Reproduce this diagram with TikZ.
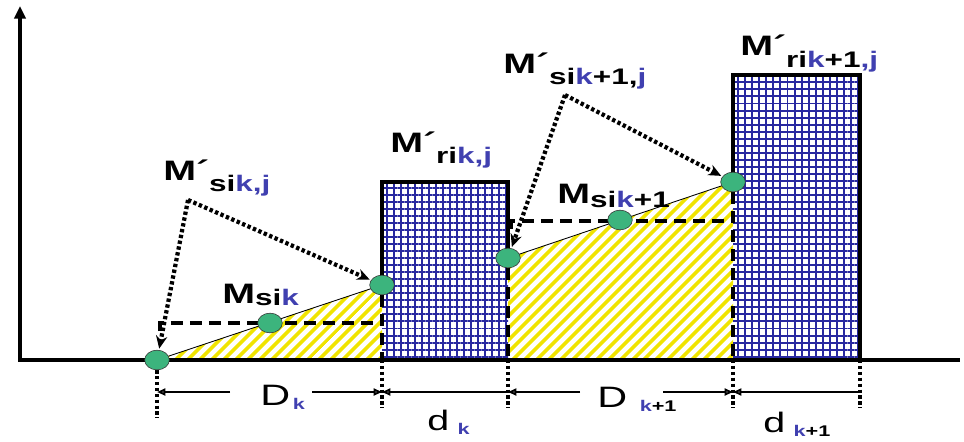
\documentclass[tikz,border=0pt]{standalone}
\usepackage{fontspec}
\setmainfont[FakeStretch=1.4]{Liberation Sans}
\usetikzlibrary{arrows.meta, shapes.geometric, patterns.meta, backgrounds, positioning}
\definecolor{cBlue}{RGB}{64,64,176}
\definecolor{cGrid}{RGB}{40,40,160}
\definecolor{cGreen}{RGB}{60,180,125}
\definecolor{cYellow}{RGB}{240,228,0}
\newcommand{\kb}[1]{\textcolor{cBlue}{#1}}
\newcommand{\mlbl}[3][8pt]{{\fontsize{20}{20}\selectfont\bfseries #2\raisebox{-#1}{\fontsize{16}{16}\selectfont #3}}}
\newcommand{\dlbl}[4][3pt]{{\fontsize{#2}{#2}\selectfont #3\raisebox{-#1}{\fontsize{11}{11}\selectfont\bfseries #4}}}
\tikzset{
	pt/.style       ={ellipse, draw=black!80, fill=cGreen, minimum width=17.5pt, minimum height=14pt, inner sep=0pt},
	lbl/.style      ={anchor=base west, inner sep=0pt},
	axisl/.style    ={line width=2.5pt, line cap=rect},
	edge/.style     ={line width=3.4pt},
	dsh/.style      ={line width=2.4pt, dash pattern=on 8.5pt off 5pt},
	thinl/.style    ={line width=0.6pt},
	dotl/.style     ={line width=3pt, dash pattern=on 2.4pt off 1.8pt},
	dotarrow/.style ={dotl, -{Stealth[length=9pt, width=8pt]}, shorten >=1pt},
	dimtip/.style   ={line width=1.4pt, -{Triangle[open, length=6pt, width=5pt]}},
	hatchy/.style   ={pattern={Lines[angle=45, distance=6.5pt, line width=2.8pt]}, pattern color=cYellow},
	gridb/.style    ={pattern={Hatch[distance=5pt, line width=1.4pt]}, pattern color=cGrid},
}
\begin{document}
\begin{tikzpicture}[x=0.025cm, y=-0.025cm]
\useasboundingbox (0,0) rectangle (964,441);
% points on the two slopes
\node[pt] (pA) at (157,360) {};
\node[pt] (pMk) at (270,323) {};
\node[pt] (pB) at (382,285) {};
\node[pt] (pC) at (508,258) {};
\node[pt] (pMk1) at (620,220) {};
\node[pt] (pD) at (733,182) {};
% corner points of the dotted pointers
\coordinate (p1) at (188,200);
\coordinate (p2) at (565,95);
% labels
\node[lbl] (lSk) at (163,180) {\mlbl{M´}{si\kb{k,j}}};
\node[lbl] (lMk) at (222,303) {\mlbl[2pt]{M}{si\kb{k}}};
\node[lbl] (lRk) at (390,152) {\mlbl{M´}{ri\kb{k,j}}};
\node[lbl] (lSk1) at (503,73) {\mlbl{M´}{si\kb{k}+1,\kb{j}}};
\node[lbl] (lMk1) at (557,203) {\mlbl[3pt]{M}{si\kb{k}+1}};
\node[lbl] (lRk1) at (740,55) {\mlbl[9pt]{M´}{ri\kb{k}+1\kb{,j}}};
\node[lbl] (lDk) at (260,405) {\dlbl{21}{D\hspace{2pt}}{\kb{k}}};
\node[lbl] (ldk) at (427,430) {\dlbl{20}{d\hspace{6pt}}{\kb{k}}};
\node[lbl] (lDk1) at (597,407) {\dlbl{21}{D\hspace{9pt}}{\kb{k}+1}};
\node[lbl] (ldk1) at (763,432) {\dlbl{20}{d\hspace{6pt}}{\kb{k}+1}};
% ticks under the axis
\coordinate (tA) at (157,418);
\coordinate (tB) at (382,408);
\coordinate (tC) at (508,408);
\coordinate (tD) at (733,408);
\coordinate (tE) at (860,408);
\begin{scope}[on background layer]
	\fill[hatchy] (pA.center) -- (pB.center) -- (382,360) -- cycle;
	\fill[hatchy] (pC.center) -- (pD.center) -- (733,360) -- (508,360) -- cycle;
	\fill[gridb] (382,182) rectangle (508,360);
	\fill[gridb] (733,75) rectangle (860,360);
	\draw[axisl, -{Triangle[length=9pt, width=8pt]}] (958,360) -- (20,360) -- (20,6);
	\draw[thinl] (pA) -- (pB);
	\draw[thinl] (pC) -- (pD);
	\draw[edge] (pB.center) -- (382,182) -- (508,182) -- (pC.center);
	\draw[edge] (pD.center) -- (733,75) -- (860,75) -- (860,360);
	\draw[dsh] (160,331) -- (160,323) -- (382,323);
	\draw[dsh] (pB) -- (382,360);
	\draw[dsh] (511,229) -- (511,221) -- (733,221);
	\draw[dsh] (pC) -- (508,360);
	\draw[dsh] (pD) -- (733,360);
	\draw[dotl] (pA) -- (tA);
	\foreach \t/\x in {tB/382, tC/508, tD/733, tE/860}
		\draw[dotl] (\x,360) -- (\t);
\end{scope}
% dotted pointers
\draw[dotarrow] (p1) -- (pB);
\draw[dotarrow] (p1) -- (pA);
\draw[dotarrow] (p2) -- (pD);
\draw[dotarrow] (p2) -- (pC);
% dimensions
\draw[dimtip] (230,392) -- (157,392);
\draw[dimtip] (312,392) -- (382,392);
\draw[dimtip, {Triangle[open, length=6pt, width=5pt]}-] (382,392) -- (508,392);
\draw[dimtip] (580,392) -- (508,392);
\draw[dimtip] (663,392) -- (733,392);
\draw[dimtip, {Triangle[open, length=6pt, width=5pt]}-] (733,392) -- (860,392);
\end{tikzpicture}
\end{document}
